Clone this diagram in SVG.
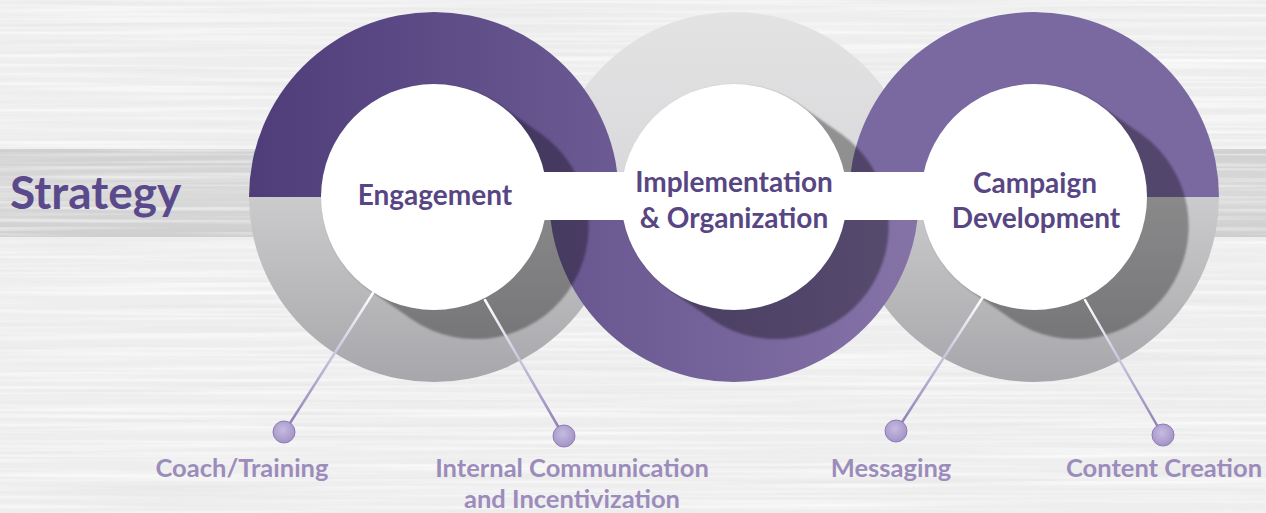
<svg xmlns="http://www.w3.org/2000/svg" xmlns:xlink="http://www.w3.org/1999/xlink" width="1266" height="513" viewBox="0 0 1266 513">
<style>
.node-title{font-family:Lato,"Liberation Sans",sans-serif;font-weight:700;font-size:28px;fill:#574683;text-anchor:middle}
.leaf{font-family:Lato,"Liberation Sans",sans-serif;font-weight:700;font-size:25.5px;fill:#9c8cbb;text-anchor:middle}
.conn{stroke:url(#lineGrad);stroke-width:2.5;fill:none;stroke-linecap:round}
.dot{fill:url(#dotGrad);stroke:#8e7db5;stroke-width:1}
.inner{fill:#ffffff}
</style>
<defs>
<filter id="streaks" x="0" y="0" width="100%" height="100%">
<feTurbulence type="fractalNoise" baseFrequency="0.003 0.22" numOctaves="2" seed="7" result="n"/>
<feColorMatrix in="n" type="matrix" values="0 0 0 0 1  0 0 0 0 1  0 0 0 0 1  2.2 0 0 0 -0.95"/>
</filter>
<filter id="streaksDark" x="0" y="0" width="100%" height="100%">
<feTurbulence type="fractalNoise" baseFrequency="0.003 0.18" numOctaves="2" seed="11" result="n"/>
<feColorMatrix in="n" type="matrix" values="0 0 0 0 0.5  0 0 0 0 0.5  0 0 0 0 0.5  1.6 0 0 0 -0.85"/>
</filter>
<filter id="soft" x="-20%" y="-20%" width="140%" height="140%">
<feGaussianBlur stdDeviation="1.3"/>
</filter>
<linearGradient id="bandGrad" x1="0" y1="0" x2="0" y2="1">
<stop offset="0" stop-color="#d0d0d0"/>
<stop offset="0.5" stop-color="#dadada"/>
<stop offset="1" stop-color="#cfcfcf"/>
</linearGradient>
<linearGradient id="purpleL" gradientUnits="userSpaceOnUse" x1="249" y1="0" x2="619" y2="0">
<stop offset="0" stop-color="#4f3d7a"/>
<stop offset="1" stop-color="#6b5a93"/>
</linearGradient>
<linearGradient id="purpleM" gradientUnits="userSpaceOnUse" x1="549" y1="0" x2="919" y2="0">
<stop offset="0" stop-color="#67568f"/>
<stop offset="1" stop-color="#8573a8"/>
</linearGradient>
<linearGradient id="purpleR" gradientUnits="userSpaceOnUse" x1="849" y1="0" x2="1219" y2="0">
<stop offset="0" stop-color="#7a68a0"/>
<stop offset="1" stop-color="#9788b7"/>
</linearGradient>
<linearGradient id="grayBottom" gradientUnits="userSpaceOnUse" x1="0" y1="197" x2="0" y2="382">
<stop offset="0" stop-color="#cbcbcd"/>
<stop offset="1" stop-color="#a7a7ab"/>
</linearGradient>
<linearGradient id="grayTop" gradientUnits="userSpaceOnUse" x1="0" y1="12" x2="0" y2="197">
<stop offset="0" stop-color="#e3e3e4"/>
<stop offset="1" stop-color="#d8d8da"/>
</linearGradient>
<linearGradient id="lineGrad" x1="0" y1="0" x2="0" y2="1">
<stop offset="0" stop-color="#ffffff"/>
<stop offset="1" stop-color="#8a79b3"/>
</linearGradient>
<radialGradient id="dotGrad" cx="0.45" cy="0.4" r="0.6">
<stop offset="0" stop-color="#c6bbe0"/>
<stop offset="1" stop-color="#a493c7"/>
</radialGradient>
<clipPath id="outerClip"><circle cx="434" cy="197" r="185"/></clipPath>
<path id="shadowShape" d="M498.6,104.3 L541.6,134.3 A113,113 0 0 1 412.4,319.7 L369.4,289.7 A113,113 0 0 1 498.6,104.3 Z"/>
<path id="topHalf" d="M249,197 A185,185 0 0 1 619,197 Z"/>
<path id="bottomHalf" d="M249,197 A185,185 0 0 0 619,197 Z"/>
</defs>

<g id="background">
<rect x="0" y="0" width="1266" height="513" fill="#eeeeee"/>
<rect x="0" y="149" width="1266" height="88" fill="url(#bandGrad)"/>
<rect x="0" y="0" width="1266" height="513" filter="url(#streaksDark)" opacity="0.2"/>
<rect x="0" y="0" width="1266" height="513" filter="url(#streaks)" opacity="0.8"/>
</g>

<g id="rings">
<use xlink:href="#topHalf" transform="translate(300,0)" fill="url(#grayTop)"/>
<use xlink:href="#topHalf" fill="url(#purpleL)"/>
<use xlink:href="#bottomHalf" fill="url(#grayBottom)"/>
<use xlink:href="#topHalf" transform="translate(600,0)" fill="url(#purpleR)"/>
<use xlink:href="#bottomHalf" transform="translate(600,0)" fill="url(#grayBottom)"/>
<path d="M549,197 A185,185 0 0 0 919,197 Z" fill="url(#purpleM)"/>
<g clip-path="url(#outerClip)"><use xlink:href="#shadowShape" fill="#000" opacity="0.32" filter="url(#soft)"/></g>
<g transform="translate(300,0)" clip-path="url(#outerClip)"><use xlink:href="#shadowShape" fill="#000" opacity="0.34" filter="url(#soft)"/></g>
<g transform="translate(600,0)" clip-path="url(#outerClip)"><use xlink:href="#shadowShape" fill="#000" opacity="0.32" filter="url(#soft)"/></g>
</g>

<g id="connectors">
<rect x="434" y="172" width="600" height="48" fill="#ffffff"/>
<line class="conn" x1="373" y1="293" x2="285" y2="431"/>
<line class="conn" x1="485" y1="300" x2="563" y2="435"/>
<line class="conn" x1="983" y1="297" x2="897" y2="430"/>
<line class="conn" x1="1085" y1="300" x2="1162" y2="434"/>
</g>

<g id="strategy">
<text x="10" y="209" font-family="Lato,'Liberation Sans',sans-serif" font-weight="700" font-size="46" fill="#5b4a8b">Strategy</text>
</g>

<g id="engagement">
<circle class="inner" cx="434" cy="197" r="113"/>
<text class="node-title" x="435" y="205">Engagement</text>
</g>

<g id="implementation">
<circle class="inner" cx="734" cy="197" r="113"/>
<text class="node-title" x="734" y="192">Implementation</text>
<text class="node-title" x="734" y="228">&amp; Organization</text>
</g>

<g id="campaign">
<circle class="inner" cx="1034" cy="197" r="113"/>
<text class="node-title" x="1035" y="193">Campaign</text>
<text class="node-title" x="1036" y="228">Development</text>
</g>

<g id="coach-training">
<circle class="dot" cx="284" cy="432" r="11"/>
<text class="leaf" x="242" y="477">Coach/Training</text>
</g>

<g id="internal-communication">
<circle class="dot" cx="564" cy="436" r="11"/>
<text class="leaf" x="572" y="477">Internal Communication</text>
<text class="leaf" x="572" y="508">and Incentivization</text>
</g>

<g id="messaging">
<circle class="dot" cx="896" cy="431" r="11"/>
<text class="leaf" x="891" y="477">Messaging</text>
</g>

<g id="content-creation">
<circle class="dot" cx="1163" cy="435" r="11"/>
<text class="leaf" x="1164" y="477">Content Creation</text>
</g>
</svg>
